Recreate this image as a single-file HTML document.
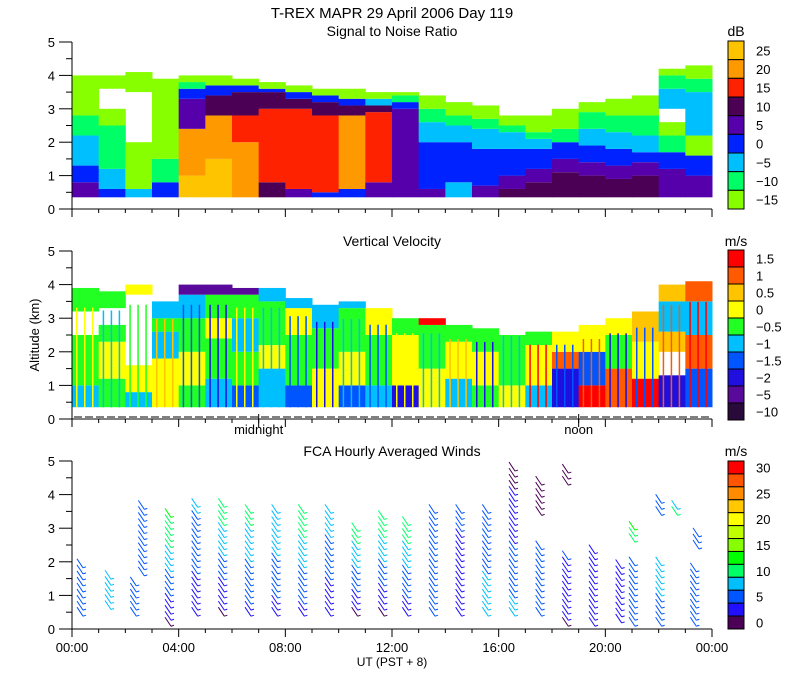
<!DOCTYPE html>
<html><head><meta charset="utf-8"><style>
html,body{margin:0;padding:0;background:#fff;}
svg{display:block;font-family:"Liberation Sans",sans-serif;}
text{fill:#000;}
</style></head><body>
<svg id="chart" width="800" height="700" viewBox="0 0 800 700" xmlns="http://www.w3.org/2000/svg">
<rect width="800" height="700" fill="#fff"/>
<text x="392" y="18" font-size="15" text-anchor="middle">T-REX  MAPR 29 April 2006 Day 119</text>
<text x="392" y="36" font-size="14" text-anchor="middle">Signal to Noise Ratio</text>
<text x="392" y="246" font-size="14" text-anchor="middle">Vertical Velocity</text>
<text x="392" y="456" font-size="14" text-anchor="middle">FCA Hourly Averaged Winds</text>
<text transform="translate(39,335) rotate(-90)" font-size="13" text-anchor="middle">Altitude (km)</text>
<text x="392" y="666" font-size="12" text-anchor="middle">UT  (PST + 8)</text>
<g id="layers"></g>
</svg>
<script>
// ---- data ----
const hours = [0,1,2,3,4,5,6,7,8,9,10,11,12,13,14,15,16,17,18,19,20,21,22,23];
const snrLevels = [-15,-10,-5,0,5,10,15,20,25];
const snrColors = ["#88ff00","#00ff66","#00bfff","#0022ff","#5500aa","#4b0055","#ff2200","#ff9900","#ffc400"];
// per-hour profile: [level index (-1 = no echo), top km]
const snrProfiles = [
 [[4,0.8],[3,1.3],[2,2.2],[1,2.8],[0,4.0]],
 [[3,0.6],[2,1.2],[1,2.5],[0,3.0],[-1,3.6],[0,4.0]],
 [[2,0.6],[0,2.0],[-1,3.5],[0,4.1]],
 [[3,0.8],[1,1.5],[0,3.9]],
 [[8,1.0],[7,2.4],[4,3.3],[3,3.6],[1,3.8],[0,4.0]],
 [[8,1.5],[7,2.8],[5,3.4],[3,3.7],[0,4.0]],
 [[7,2.0],[6,2.8],[5,3.5],[3,3.7],[0,3.9]],
 [[5,0.8],[6,3.0],[5,3.5],[3,3.6],[0,3.8]],
 [[4,0.6],[6,3.0],[5,3.3],[3,3.5],[0,3.7]],
 [[3,0.5],[6,2.8],[5,3.2],[3,3.4],[0,3.6]],
 [[3,0.6],[7,2.8],[5,3.1],[3,3.3],[0,3.6]],
 [[4,0.8],[6,2.9],[5,3.1],[2,3.3],[0,3.5]],
 [[4,3.0],[3,3.2],[1,3.4],[0,3.5]],
 [[4,0.6],[3,2.0],[2,2.6],[1,3.0],[0,3.4]],
 [[2,0.8],[3,2.0],[2,2.5],[1,2.8],[0,3.2]],
 [[4,0.7],[3,1.8],[2,2.4],[1,2.7],[0,3.1]],
 [[5,0.6],[4,1.0],[3,1.8],[2,2.3],[1,2.5],[0,2.8]],
 [[5,0.8],[4,1.2],[3,1.8],[2,2.1],[1,2.3],[0,2.8]],
 [[5,1.1],[4,1.5],[3,2.0],[1,2.4],[0,3.0]],
 [[5,1.0],[4,1.4],[3,1.9],[2,2.4],[1,2.9],[0,3.2]],
 [[5,0.9],[4,1.3],[3,1.8],[2,2.3],[1,2.8],[0,3.3]],
 [[5,1.0],[4,1.4],[3,1.7],[2,2.2],[1,2.8],[0,3.4]],
 [[4,1.2],[3,1.7],[1,2.2],[0,2.6],[-1,3.0],[2,3.6],[1,4.0],[0,4.2]],
 [[4,1.0],[3,1.6],[0,2.2],[2,3.5],[1,3.9],[0,4.3]]
];
const vvLevels = ["1.5","1","0.5","0","\u22120.5","\u22121","\u22121.5","\u22122","\u22125","\u221210"];
const vvColors = ["#2a0a3a","#5a0a9a","#2010e0","#0055ff","#00bfff","#22ff22","#ffff00","#ffc400","#ff5a00","#ff0000"];
const vvProfiles = [
 [[4,1.0],[5,2.5],[-1,3.2],[5,3.9]],
 [[5,1.2],[6,2.3],[5,2.8],[-1,3.3],[5,3.8]],
 [[4,0.8],[6,1.6],[-1,3.7],[6,4.0]],
 [[6,1.8],[4,2.6],[5,3.0],[4,3.5]],
 [[5,1.0],[6,2.0],[5,3.0],[4,3.7],[1,4.0]],
 [[4,1.2],[5,2.4],[6,3.0],[5,3.7],[1,4.0]],
 [[3,1.0],[5,2.0],[4,3.0],[5,3.7],[1,3.9]],
 [[4,1.5],[6,2.2],[5,3.5],[4,3.9]],
 [[3,1.0],[5,2.5],[6,3.3],[4,3.6]],
 [[6,1.5],[5,2.7],[4,3.4]],
 [[3,1.0],[6,2.0],[5,3.3],[4,3.5]],
 [[4,1.0],[5,2.5],[6,3.3]],
 [[2,1.0],[6,2.5],[5,3.0]],
 [[6,1.5],[5,2.8],[9,3.0]],
 [[4,1.2],[6,2.3],[5,2.8]],
 [[5,1.0],[6,2.0],[5,2.7]],
 [[6,1.0],[5,2.5],[-1,2.9]],
 [[4,1.0],[6,2.2],[5,2.6]],
 [[2,1.5],[8,2.0],[6,2.6]],
 [[9,1.0],[3,2.0],[6,2.8]],
 [[8,1.5],[5,2.5],[6,3.0]],
 [[9,1.2],[6,2.3],[7,3.2]],
 [[2,1.3],[-1,2.0],[7,2.6],[4,3.5],[7,4.0]],
 [[3,1.5],[8,2.5],[4,3.5],[8,4.1]]
];
const vvAlt = [6,4,5,7,3,2,6,4,3,2,4,3,6,4,7,2,4,9,3,8,2,3,8,9];
const windLabels = ["30","25","20","15","10","5","0"];
const windColors = ["#ff0000","#ff5500","#ff8c00","#ffc800","#ffff00","#c0ff00","#88ff00","#00ff00","#00ff66","#00bfff","#0055ff","#2010ff","#4b0055"];
const windHour = [0.3,1.35,2.3,2.6,3.6,4.6,5.6,6.6,7.6,8.6,9.6,10.6,11.6,12.5,13.5,14.5,15.5,16.5,17.5,17.5,18.5,18.5,19.5,20.5,21.0,21.0,22.0,22.0,22.6,23.3,23.4];
const windBot  = [0.5,0.7,0.5,1.7,0.2,0.5,0.5,0.5,0.5,0.5,0.5,0.5,0.5,0.5,0.5,0.5,0.5,0.5,0.5,3.5,0.2,4.4,0.2,0.3,0.2,2.7,0.2,3.5,3.5,0.2,2.5];
const windTop  = [2.0,1.7,1.5,3.7,3.5,3.9,3.9,3.7,3.7,3.7,3.7,3.1,3.5,3.2,3.6,3.7,3.6,4.9,2.5,4.5,2.3,4.8,2.5,2.0,2.0,3.2,2.1,3.9,3.8,1.9,3.0];
const windSpdLow  = [5,8,4,4,1,2,1,3,3,3,2,1,1,2,4,3,7,7,4,1,1,1,3,3,5,10,5,4,11,4,4];
const windSpdHigh = [5,8,4,4,12,7,11,10,9,11,8,11,11,11,4,4,5,0,4,0,4,0,3,3,5,12,8,4,4,5,4];

// ---- axes ----
const X0=72, X1=712;
const panels=[{y5:42,y0:209},{y5:251,y0:419},{y5:461,y0:629}];
const xS = h => X0 + (X1-X0)*h/24;
const yS = (p,km) => p.y0 - (p.y0-p.y5)*km/5;
const NS="http://www.w3.org/2000/svg";
const root=document.getElementById('layers');
function mk(tag, attrs, parent){const e=document.createElementNS(NS,tag);for(const k in attrs)e.setAttribute(k,attrs[k]);(parent||root).appendChild(e);return e;}

function drawRaster(p, profiles, colors, name){
  const g=mk('g',{});
  
  
  hours.forEach((h,i)=>{
    let bot=0.35;
    profiles[i].forEach(seg=>{
      const lv=seg[0], top=seg[1];
      if(lv>=0 && top>bot){
        const r=mk('rect',{x:xS(h),y:yS(p,top),width:xS(h+1)-xS(h)+0.5,height:yS(p,bot)-yS(p,top),fill:colors[lv]},g);
        
        
      }
      bot=Math.max(bot,top);
    });
  });
  return g;
}
drawRaster(panels[0], snrProfiles, snrColors, 'snr-field');
const vvg = drawRaster(panels[1], vvProfiles, vvColors, 'vv-field');
hours.forEach((h,i)=>{
  const prof=vvProfiles[i]; const top=prof[prof.length-1][1]*0.85;
  for(let k=0;k<3;k++){
    const s=mk('rect',{x:xS(h+0.15+k*0.3),y:yS(panels[1],top),width:1.5,height:yS(panels[1],0.35)-yS(panels[1],top),fill:vvColors[vvAlt[i]]},vvg);
    
    
  }
});

// winds
const wg=mk('g',{'stroke-width':1,fill:'none'});


function spdColor(s){const idx=Math.max(0,Math.min(12,Math.round(12-s/2.5)));return windColors[idx];}
windHour.forEach((h,i)=>{
  const p=panels[2]; const x=xS(h);
  for(let km=windBot[i]; km<=windTop[i]+0.001; km+=0.18){
    const f=(windTop[i]-windBot[i])>0?(km-windBot[i])/(windTop[i]-windBot[i]):0;
    const c=spdColor(windSpdLow[i]+(windSpdHigh[i]-windSpdLow[i])*f);
    const y=yS(p,km);
    const l=mk('path',{d:`M${x-3},${y-5}L${x+3},${y+4}M${x+3},${y+4}L${x+6},${y+3}`,stroke:c},wg);
    
    
  }
});

// axes
panels.forEach((p,pi)=>{
  const ag=mk('g',{stroke:'#000','stroke-width':1,fill:'none'});
  
  
  mk('line',{x1:X0,y1:p.y5,x2:X0,y2:p.y0},ag);
  mk('line',{x1:X0,y1:p.y0,x2:X1,y2:p.y0},ag);
  for(let k=0;k<=10;k++){
    const y=yS(p,k/2);
    mk('line',{x1:k%2?66:59,y1:y,x2:X0,y2:y},ag);
    if(k%2===0){const t=mk('text',{x:55,y:y+5,'font-size':13,'text-anchor':'end',stroke:'none',fill:'#000'});t.textContent=k/2;
      }
  }
  for(let h=0;h<=24;h++){
    const x=xS(h);
    mk('line',{x1:x,y1:p.y0,x2:x,y2:p.y0+(h%4===0?8:4)},ag);
  }
  if(pi===1){
    mk('line',{x1:X0+2,y1:p.y0-2,x2:X1,y2:p.y0-2,'stroke-dasharray':'8,3'},ag);
    [[7,'midnight'],[19,'noon']].forEach(([h,s])=>{
      mk('line',{x1:xS(h),y1:p.y0-5,x2:xS(h),y2:p.y0+8},ag);
      const t=mk('text',{x:xS(h),y:p.y0+15,'font-size':13,'text-anchor':'middle',stroke:'none',fill:'#000'});t.textContent=s;
      
    });
  }
  if(pi===2){
    ['00:00','04:00','08:00','12:00','16:00','20:00','00:00'].forEach((s,k)=>{
      const t=mk('text',{x:xS(k*4),y:652,'font-size':13,'text-anchor':'middle',stroke:'none',fill:'#000'});t.textContent=s;
      
    });
  }
});

// colorbars
function colorbar(top,bot,colors,labels,every,unit,unitY,name){
  const g=mk('g',{});
  
  
  const n=colors.length, bh=(bot-top)/n;
  colors.forEach((c,k)=>{
    const r=mk('rect',{x:728,y:top+k*bh,width:16,height:bh,fill:c,stroke:'#000','stroke-width':1},g);
    
    
  });
  labels.forEach((s,k)=>{
    const t=mk('text',{x:756,y:top+(k*every+0.5)*bh+5,'font-size':13},g);t.textContent=s;
    
  });
  const u=mk('text',{x:736,y:unitY,'font-size':14,'text-anchor':'middle'},g);u.textContent=unit;
  
}
colorbar(41,209,snrColors.slice().reverse(),snrLevels.slice().reverse().map(v=>v<0?'\u2212'+(-v):''+v),1,'dB',36,'snr-colorbar');
colorbar(250,420,vvColors.slice().reverse(),vvLevels,1,'m/s',246,'vv-colorbar');
colorbar(461,629,windColors,windLabels,2,'m/s',456,'wind-colorbar');
</script>
</body></html>
